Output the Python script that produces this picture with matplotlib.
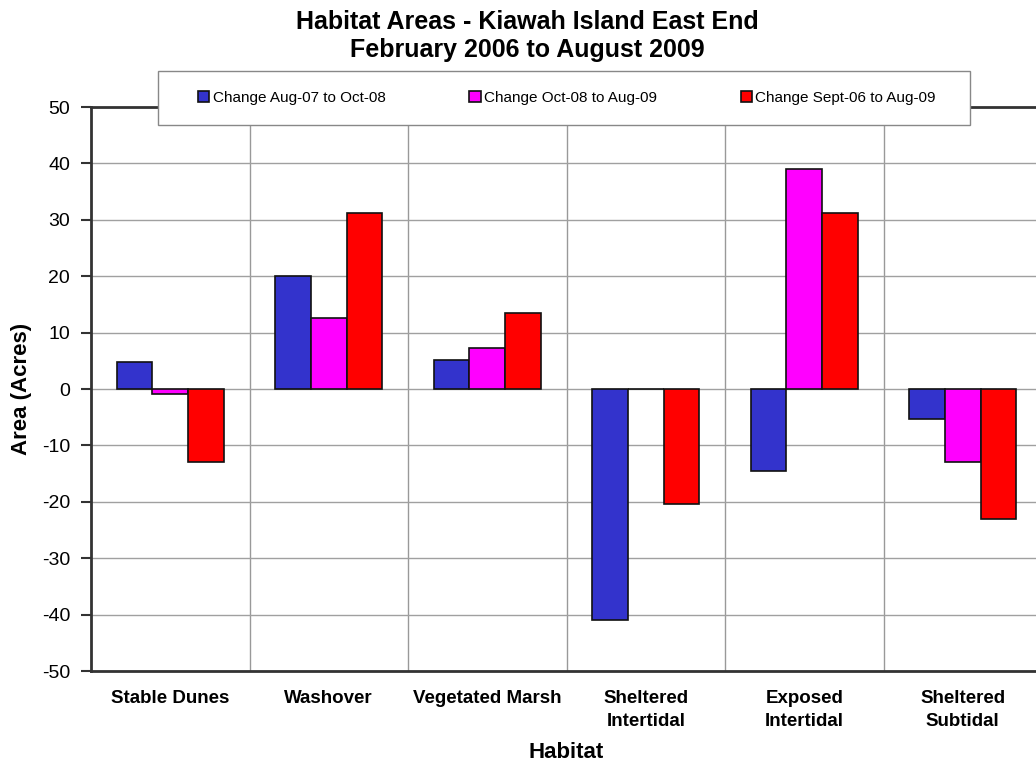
import matplotlib
matplotlib.use('Agg')
import numpy as np
import matplotlib.pyplot as plt
from matplotlib.patches import Rectangle

habitats = ['Stable Dunes', 'Washover', 'Vegetated Marsh', 'Sheltered\nIntertidal',
            'Exposed\nIntertidal', 'Sheltered\nSubtidal']
series_names = ['Change Aug-07 to Oct-08', 'Change Oct-08 to Aug-09', 'Change Sept-06 to Aug-09']
change_aug07_oct08 = [4.7, 20.0, 5.2, -41.0, -14.6, -5.3]
change_oct08_aug09 = [-0.8, 12.6, 7.3, 0.0, 39.0, -13.0]
change_sep06_aug09 = [-12.9, 31.2, 13.4, -20.4, 31.2, -23.0]
colors = ['#3333CC', '#FF00FF', '#FF0000']

plt.rcParams['font.family'] = ['Liberation Sans', 'DejaVu Sans']
plt.rcParams['axes.unicode_minus'] = False

fig = plt.figure(figsize=(10.36, 7.64), dpi=100)
ax = fig.add_axes([91 / 1036, 93 / 764, 951 / 1036, 564 / 764])

x = np.arange(len(habitats))
width = 0.225
for i, (vals, name, c) in enumerate(zip([change_aug07_oct08, change_oct08_aug09, change_sep06_aug09],
                                        series_names, colors)):
    ax.bar(x + (i - 1) * width, vals, width, color=c, edgecolor='#111111', linewidth=1.2,
           label=name, zorder=3)

ax.set_xlim(-0.5, len(habitats) - 0.5)
ax.set_ylim(-50, 50)
ax.set_yticks(range(-50, 51, 10))
ax.set_xticks(x)
ax.set_xticklabels(habitats, fontsize=13.5, fontweight='bold', linespacing=1.45)
ax.set_xticks(np.arange(0.5, len(habitats) - 0.5, 1), minor=True)
ax.tick_params(axis='x', which='both', length=0, pad=14)
ax.tick_params(axis='y', length=7, width=1.5, color='#333333', labelsize=14, pad=8)

ax.grid(axis='y', color='#a0a0a0', linewidth=1, zorder=0)
ax.grid(axis='x', which='minor', color='#999999', linewidth=1, zorder=0)
ax.grid(axis='x', which='major', visible=False)

for s in ['left', 'bottom', 'top']:
    ax.spines[s].set_color('#333333')
    ax.spines[s].set_linewidth(2)
ax.spines['right'].set_visible(False)

ax.set_ylabel('Area (Acres)', fontsize=16, fontweight='bold')
ax.yaxis.set_label_coords((22 - 91) / 951, 0.5)
ax.yaxis.label.set_va('center')
ax.set_xlabel('Habitat', fontsize=16, fontweight='bold')
ax.xaxis.set_label_coords(0.5, (764 - 752 - 93) / 564)
ax.xaxis.label.set_va('center')

fig.text(527 / 1036, 1 - 36 / 764, 'Habitat Areas - Kiawah Island East End\nFebruary 2006 to August 2009',
         ha='center', va='center', fontsize=18, fontweight='bold', linespacing=1.2)

# legend box sits over the top spine
fig.patches.append(Rectangle((158 / 1036, 1 - 125 / 764), 812 / 1036, 54 / 764,
                             transform=fig.transFigure, facecolor='white',
                             edgecolor='#888888', linewidth=1, zorder=1))
handles, labels = ax.get_legend_handles_labels()
leg = fig.legend(handles, labels, loc='center', ncol=3,
                 bbox_to_anchor=(567 / 1036, 1 - 98 / 764),
                 fontsize=11, frameon=False, handlelength=0.75, handleheight=0.75,
                 handletextpad=0.2, columnspacing=5.5, borderpad=0)
leg.set_zorder(2)

fig.savefig('out.png', dpi=100)
